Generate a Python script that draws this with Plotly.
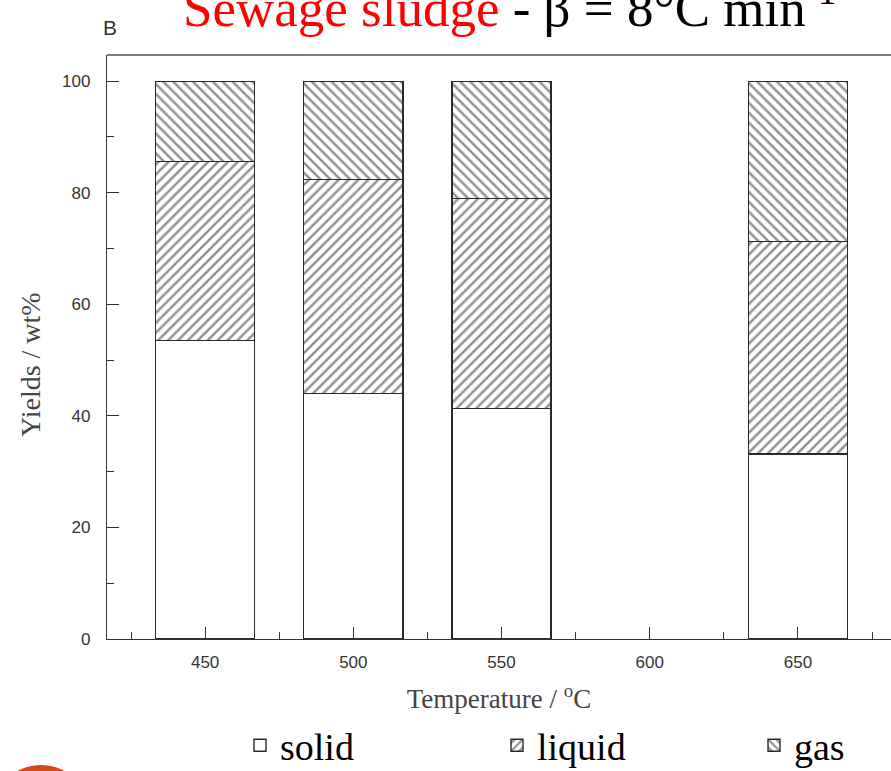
import plotly.graph_objects as go

# ---- data ----
temperatures = [450, 500, 550, 650]
solid = [53.5, 44.0, 41.3, 33.2]
liquid = [32.1, 38.4, 37.7, 38.1]
gas = [14.4, 17.6, 21.0, 28.7]
tick_values = [450, 500, 550, 600, 650]
tick_labels = ["450", "500", "550", "600", "650"]
series_names = ["solid", "liquid", "gas"]

W, H = 891, 771
L, R, T, B = 107, 0, 55, 132
PW, PH = W - L - R, H - T - B


def px_x(x):
    return (x - L) / PW


def px_y(y):
    return (H - B - y) / PH


edge = dict(color="#2a2a2a", width=1.4)
bar_w = 33.5
hatch = dict(size=7, solidity=0.36, fgcolor="#222222", bgcolor="white")

fig = go.Figure()
fig.add_trace(go.Bar(
    x=temperatures, y=solid, name=series_names[0], width=bar_w,
    marker=dict(color="white", line=edge),
))
fig.add_trace(go.Bar(
    x=temperatures, y=liquid, name=series_names[1], width=bar_w,
    marker=dict(color="white", line=edge, pattern=dict(shape="/", **hatch)),
))
fig.add_trace(go.Bar(
    x=temperatures, y=gas, name=series_names[2], width=bar_w,
    marker=dict(color="white", line=edge, pattern=dict(shape="\\", **hatch)),
))

serif = "Liberation Serif, Times New Roman, serif"
sans = "Liberation Sans, Arial, sans-serif"

fig.update_layout(
    width=W, height=H,
    margin=dict(l=L, r=R, t=T, b=B, pad=0, autoexpand=False),
    paper_bgcolor="white", plot_bgcolor="white",
    barmode="stack",
    showlegend=True,
    legend=dict(
        orientation="h", traceorder="normal",
        xref="container", yref="container",
        x=240 / W, xanchor="left", y=1 - 714 / H, yanchor="top",
        font=dict(family=serif, size=38, color="black"),
        itemwidth=30, entrywidth=212, entrywidthmode="pixels",
        bgcolor="rgba(0,0,0,0)",
    ),
    xaxis=dict(
        range=[416.9, 681.4], tickmode="array", tickvals=tick_values,
        ticktext=tick_labels, ticks="inside", ticklen=12, tickwidth=1.3,
        tickcolor="#333333", showline=True, linecolor="#333333", linewidth=1.4,
        showgrid=False, zeroline=False, automargin=False,
        tickfont=dict(family=sans, size=17, color="#333333"),
        minor=dict(ticks="inside", ticklen=7, tickwidth=1.3, tickcolor="#333333",
                   tickmode="array", tickvals=[425, 475, 525, 575, 625, 675]),
        title=dict(text="Temperature / <sup>o</sup>C",
                   font=dict(family=serif, size=27, color="#444444"), standoff=18),
        ticklabelstandoff=7,
    ),
    yaxis=dict(
        range=[0, 104.7], tickmode="array", tickvals=[0, 20, 40, 60, 80, 100],
        ticks="inside", ticklen=12, tickwidth=1.3, tickcolor="#333333",
        showline=True, linecolor="#333333", linewidth=1.4,
        showgrid=False, zeroline=False, automargin=False,
        tickfont=dict(family=sans, size=17, color="#333333"),
        minor=dict(ticks="inside", ticklen=7, tickwidth=1.3, tickcolor="#333333",
                   tickmode="array", tickvals=[10, 30, 50, 70, 90]),
        ticklabelstandoff=12,
    ),
    shapes=[
        dict(type="line", xref="paper", yref="paper", x0=0, x1=1, y0=1, y1=1,
             line=dict(color="#555555", width=1.6)),
        dict(type="circle", xref="paper", yref="paper",
             x0=px_x(-8), x1=px_x(90), y0=px_y(863), y1=px_y(765),
             fillcolor="#D24A1C", line=dict(width=0)),
    ],
    annotations=[
        dict(text="Yields / wt%", xref="paper", yref="paper",
             x=px_x(30), y=px_y(365), textangle=-90,
             xanchor="center", yanchor="middle", showarrow=False,
             font=dict(family=serif, size=28, color="#444444")),
        dict(text="B", xref="paper", yref="paper",
             x=px_x(101), y=px_y(27),
             xanchor="left", yanchor="middle", showarrow=False,
             font=dict(family=sans, size=21, color="#333333")),
        dict(text="<span style='color:#ff0000'>Sewage sludge</span> - β = 8°C min<sup>-1</sup>",
             xref="paper", yref="paper",
             x=px_x(510), y=px_y(4),
             xanchor="center", yanchor="middle", showarrow=False,
             font=dict(family=serif, size=53, color="black")),
    ],
)

fig.write_html("out.html")
